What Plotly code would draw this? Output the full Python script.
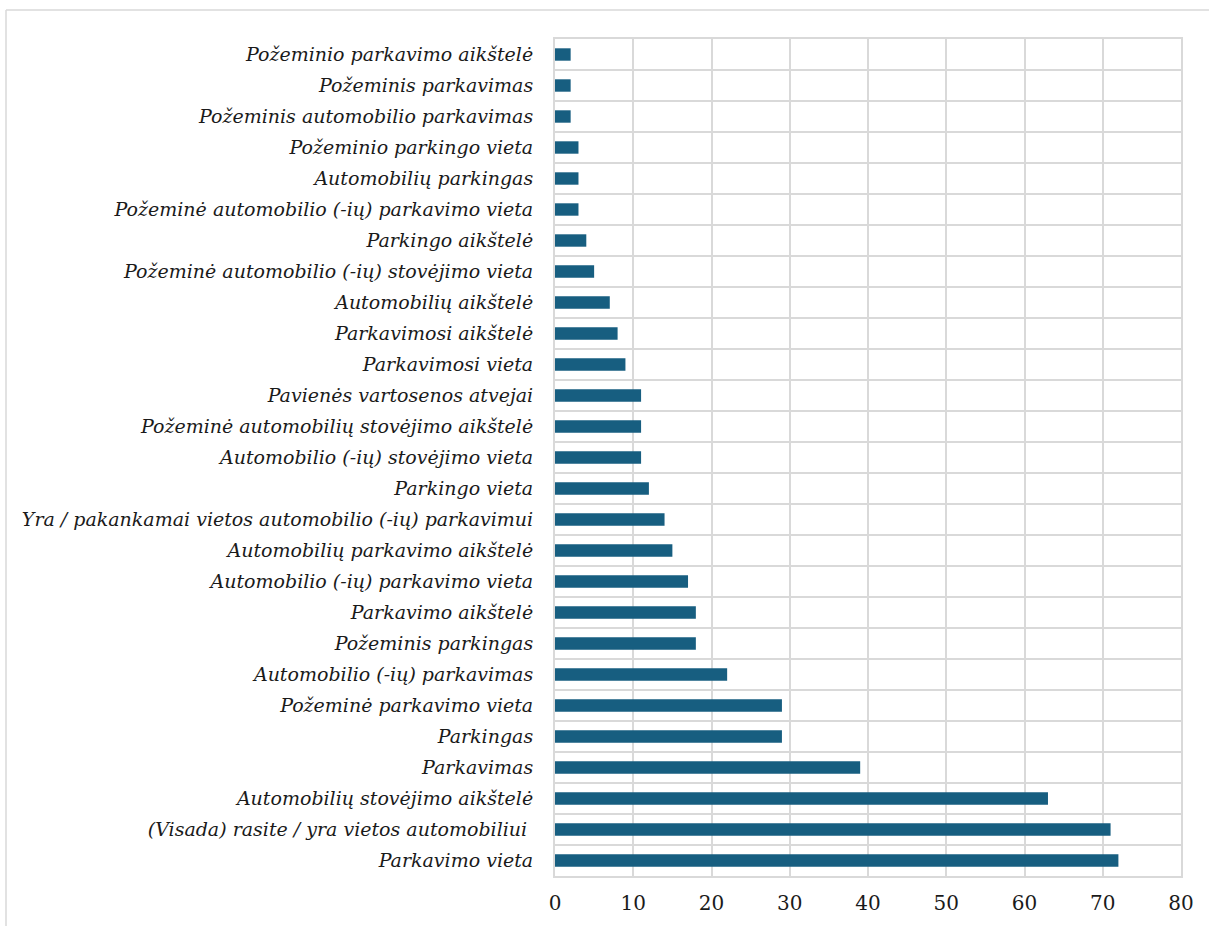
import plotly.graph_objects as go

# Categories listed from bottom to top
labels = [
    "Parkavimo vieta",
    "(Visada) rasite / yra vietos automobiliui ",
    "Automobilių stovėjimo aikštelė",
    "Parkavimas",
    "Parkingas",
    "Požeminė parkavimo vieta",
    "Automobilio (-ių) parkavimas",
    "Požeminis parkingas",
    "Parkavimo aikštelė",
    "Automobilio (-ių) parkavimo vieta",
    "Automobilių parkavimo aikštelė",
    "Yra / pakankamai vietos automobilio (-ių) parkavimui",
    "Parkingo vieta",
    "Automobilio (-ių) stovėjimo vieta",
    "Požeminė automobilių stovėjimo aikštelė",
    "Pavienės vartosenos atvejai",
    "Parkavimosi vieta",
    "Parkavimosi aikštelė",
    "Automobilių aikštelė",
    "Požeminė automobilio (-ių) stovėjimo vieta",
    "Parkingo aikštelė",
    "Požeminė automobilio (-ių) parkavimo vieta",
    "Automobilių parkingas",
    "Požeminio parkingo vieta",
    "Požeminis automobilio parkavimas",
    "Požeminis parkavimas",
    "Požeminio parkavimo aikštelė",
]
counts = [72, 71, 63, 39, 29, 29, 22, 18, 18, 17, 15, 14, 12, 11, 11, 11,
          9, 8, 7, 5, 4, 3, 3, 3, 2, 2, 2]
x_ticks = [0, 10, 20, 30, 40, 50, 60, 70, 80]

W, H = 1209, 926
ML, MR, MT, MB = 555, 28, 39, 50
GRID = "#d9d9d9"
BAR = "#175e80"
FONT = "DejaVu Serif"

positions = list(range(len(labels)))

fig = go.Figure(
    go.Bar(
        x=counts,
        y=positions,
        orientation="h",
        marker=dict(color=BAR, line=dict(width=0)),
        width=0.4,
        hoverinfo="x+text",
        text=labels,
        textposition="none",
    )
)

# Outer chart frame (top and left edges)
pw = W - ML - MR
ph = H - MT - MB
fx0 = (6 - ML) / pw
fy0 = 1 - (10 - MT) / ph
for x0, y0, x1, y1 in [(fx0, fy0, 1.2, fy0), (fx0, fy0, fx0, -0.2)]:
    fig.add_shape(type="line", xref="paper", yref="paper",
                  x0=x0, y0=y0, x1=x1, y1=y1,
                  line=dict(color=GRID, width=1.5), layer="below")

fig.update_layout(
    width=W,
    height=H,
    margin=dict(l=ML, r=MR, t=MT, b=MB, pad=0, autoexpand=False),
    paper_bgcolor="white",
    plot_bgcolor="white",
    showlegend=False,
    bargap=0.6,
    font=dict(family=FONT),
    xaxis=dict(
        range=[0, 80],
        tickvals=x_ticks,
        showgrid=True,
        gridcolor=GRID,
        gridwidth=2,
        zeroline=False,
        showline=True,
        linecolor=GRID,
        linewidth=2,
        mirror=True,
        ticks="",
        automargin=False,
        ticklabelstandoff=8,
        tickfont=dict(family=FONT, size=20, color="#1a1a1a"),
    ),
    yaxis=dict(
        range=[-0.5, len(labels) - 0.5],
        tickvals=positions,
        ticktext=labels,
        showgrid=False,
        zeroline=False,
        showline=True,
        linecolor=GRID,
        linewidth=2,
        mirror=True,
        ticks="",
        automargin=False,
        ticklabelstandoff=16,
        tickfont=dict(family=FONT, size=19, color="#1a1a1a", style="italic"),
        minor=dict(tick0=0.5, dtick=1, showgrid=True, gridcolor=GRID,
                   gridwidth=2, ticks=""),
    ),
)

fig.write_html("out.html")
